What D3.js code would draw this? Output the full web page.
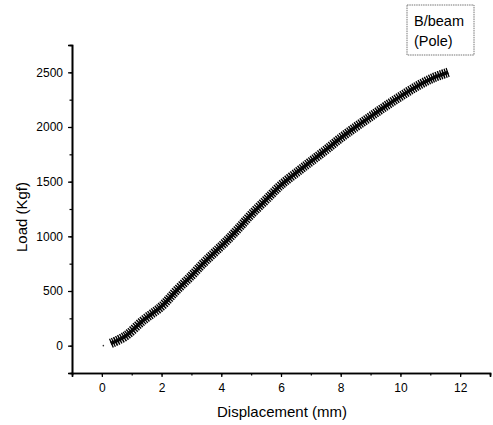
<!DOCTYPE html>
<html>
<head>
<meta charset="utf-8">
<script src="https://cdn.jsdelivr.net/npm/d3@7"></script>
<style>
  body { margin: 0; background: #fff; }
  svg { display: block; font-family: "Liberation Sans", Arial, sans-serif; }
</style>
</head>
<body>
<svg id="chart" width="493" height="425"></svg>
<script>
// displacement (mm) and load (Kgf)
var displacement = [0.3, 0.8, 1.4, 2.0, 2.5, 3.0, 3.4, 3.8, 4.2, 4.6, 5.0, 5.5, 6.0, 6.6, 7.0, 7.5, 8.0, 8.5, 9.0, 9.5, 10.0, 10.6, 11.1, 11.6];
var load = [20, 90, 235, 360, 505, 640, 755, 860, 965, 1080, 1200, 1335, 1470, 1600, 1685, 1790, 1900, 2000, 2095, 2190, 2280, 2380, 2450, 2500];
var xTicks = [0, 2, 4, 6, 8, 10, 12];
var yTicks = [0, 500, 1000, 1500, 2000, 2500];
var legendLines = ["B/beam", "(Pole)"];

(function () {
  var svg = d3.select("#chart");
  var plotLeft = 72, plotRight = 490, plotTop = 45, plotBottom = 373;

  var x = d3.scaleLinear().domain([-1, 13]).range([plotLeft, plotRight]);
  var y = d3.scaleLinear().domain([-250, 2750]).range([plotBottom, plotTop]);

  var points = displacement.map(function (d, i) { return [d, load[i]]; });

  // curve: thick hatched band
  var line = d3.line()
    .x(function (d) { return x(d[0]); })
    .y(function (d) { return y(d[1]); })
    .curve(d3.curveCatmullRom);

  svg.append("path")
    .attr("d", line(points))
    .attr("fill", "none")
    .attr("stroke", "#111")
    .attr("stroke-width", 3.5);

  svg.append("path")
    .attr("d", line(points))
    .attr("fill", "none")
    .attr("stroke", "#000")
    .attr("stroke-width", 9.5)
    .attr("stroke-dasharray", "1.4,0.9");

  svg.append("circle")
    .attr("cx", x(0.05)).attr("cy", y(0))
    .attr("r", 0.8).attr("fill", "#333");

  // axes
  var xAxis = d3.axisBottom(x).tickValues(xTicks).tickSize(4).tickPadding(6).tickFormat(d3.format("d"));
  var xMinor = d3.axisBottom(x).tickValues(d3.range(-1, 14, 1)).tickSize(2.5).tickFormat("");
  var yAxis = d3.axisLeft(y).tickValues(yTicks).tickSize(4).tickPadding(5).tickFormat(d3.format("d"));
  var yMinor = d3.axisLeft(y).tickValues(d3.range(-250, 2751, 250)).tickSize(2.5).tickFormat("");

  function styleAxis(g) {
    g.select(".domain").attr("stroke", "#000").attr("stroke-width", 1.6);
    g.selectAll(".tick line").attr("stroke", "#000").attr("stroke-width", 1.2);
    g.selectAll(".tick text").attr("fill", "#000").style("font-size", "12px");
  }

  svg.append("g").attr("transform", "translate(0," + plotBottom + ")").call(xMinor).call(styleAxis);
  svg.append("g").attr("transform", "translate(0," + plotBottom + ")").call(xAxis).call(styleAxis);
  svg.append("g").attr("transform", "translate(" + plotLeft + ",0)").call(yMinor).call(styleAxis);
  svg.append("g").attr("transform", "translate(" + plotLeft + ",0)").call(yAxis).call(styleAxis);

  // axis titles
  svg.append("text")
    .attr("x", 282).attr("y", 417)
    .attr("text-anchor", "middle")
    .style("font-size", "15px")
    .text("Displacement (mm)");

  svg.append("text")
    .attr("transform", "translate(27,217) rotate(-90)")
    .attr("text-anchor", "middle")
    .style("font-size", "15px")
    .text("Load (Kgf)");

  // legend box
  var legend = svg.append("g").attr("transform", "translate(407,5)");
  legend.append("rect")
    .attr("width", 67).attr("height", 50)
    .attr("fill", "#fff")
    .attr("stroke", "#777")
    .attr("stroke-width", 1)
    .attr("stroke-dasharray", "1.5,0.8");
  legend.selectAll("text.leg")
    .data(legendLines)
    .enter().append("text")
    .attr("class", "leg")
    .attr("x", 7)
    .attr("y", function (d, i) { return 21 + i * 20; })
    .style("font-size", "14.5px")
    .text(function (d) { return d; });
}());
</script>
</body>
</html>
